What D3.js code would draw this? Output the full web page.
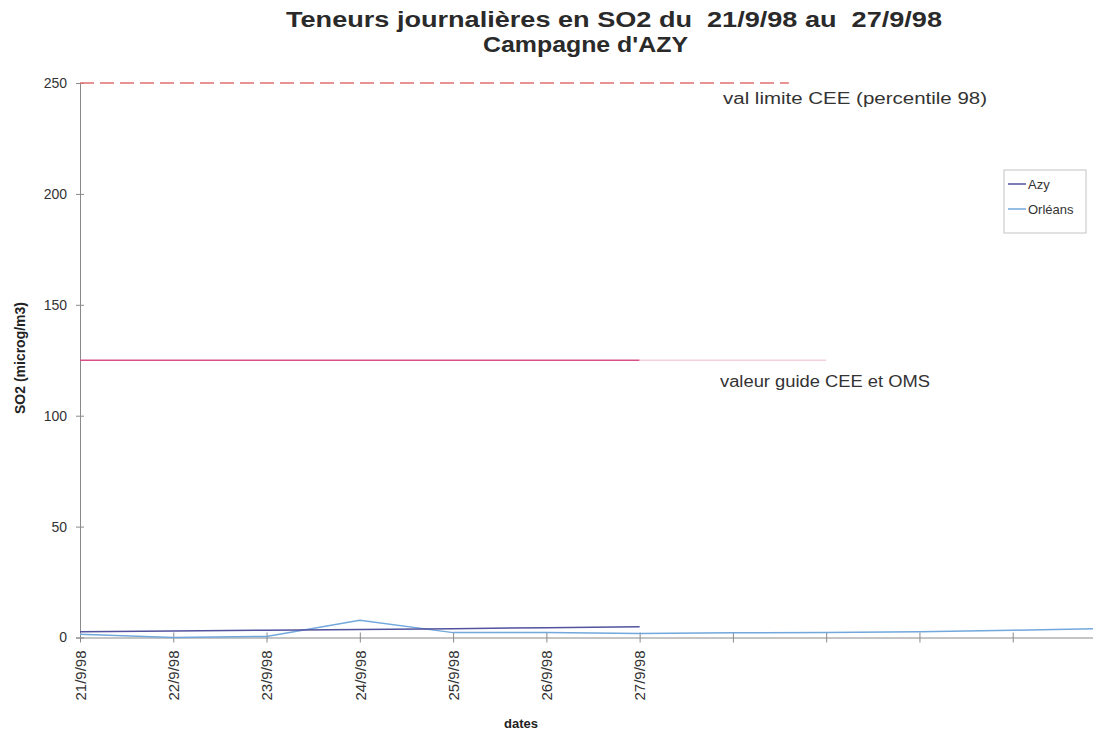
<!DOCTYPE html>
<html>
<head>
<meta charset="utf-8">
<script src="https://cdn.jsdelivr.net/npm/d3@7"></script>
<style>
  body { margin: 0; background: #fff; }
  svg { display: block; font-family: "Liberation Sans", Arial, sans-serif; }
  .axis path, .axis line { stroke: #8a8a8a; }
  .axis text { fill: #333; font-size: 14px; }
</style>
</head>
<body>
<svg id="chart" width="1093" height="733"></svg>
<script>
// Data
var dates = ["21/9/98", "22/9/98", "23/9/98", "24/9/98", "25/9/98", "26/9/98", "27/9/98"];
var azy = [2.6, 2.9, 3.3, 3.6, 4.0, 4.4, 4.8];
var orleans = [1.5, 0, 0.5, 7.8, 2.2, 2.2, 1.8, 2.1, 2.2, 2.6, 3.3, 4.0];
var yTicks = [0, 50, 100, 150, 200, 250];
var limitValues = [250, 125];
var limitEnds = [7.6, 8];
var limitLabels = ["val limite CEE (percentile 98)", "valeur guide CEE et OMS"];

var svg = d3.select("#chart");

var x = d3.scaleLinear().domain([0, 11]).range([80, 1106]);
var y = d3.scaleLinear().domain([0, 250]).range([637.5, 83]);

// Titles (scan is stretched horizontally, so widths are forced)
svg.append("text")
    .attr("x", 286).attr("y", 27)
    .attr("textLength", 656).attr("lengthAdjust", "spacingAndGlyphs")
    .style("white-space", "pre")
    .style("font-size", "22px").style("font-weight", "bold").style("fill", "#2a2a2a")
    .text("Teneurs journalières en SO2 du  21/9/98 au  27/9/98");
svg.append("text")
    .attr("x", 483).attr("y", 52)
    .attr("textLength", 205).attr("lengthAdjust", "spacingAndGlyphs")
    .style("font-size", "22px").style("font-weight", "bold").style("fill", "#2a2a2a")
    .text("Campagne d'AZY");

// Y axis
var yAxis = svg.append("g")
    .attr("class", "axis")
    .attr("transform", "translate(80,0)")
    .call(d3.axisLeft(y).tickValues(yTicks).tickSize(4).tickPadding(9));
yAxis.selectAll(".tick line").attr("x1", -4).attr("x2", 4);

svg.append("text")
    .attr("transform", "translate(25,358) rotate(-90)")
    .attr("text-anchor", "middle")
    .style("font-size", "14px").style("font-weight", "bold").style("fill", "#222")
    .text("SO2 (microg/m3)");

// X axis
var xAxis = svg.append("g")
    .attr("class", "axis")
    .attr("transform", "translate(0," + y(0) + ")")
    .call(d3.axisBottom(x).tickValues(d3.range(11))
      .tickFormat(function(i) { return dates[i] || ""; })
      .tickSize(5).tickSizeOuter(0));
xAxis.selectAll(".tick line").attr("y1", -5).attr("y2", 5);
xAxis.selectAll(".tick text")
    .attr("transform", "rotate(-90)")
    .attr("text-anchor", "end")
    .attr("x", -13).attr("y", 0).attr("dy", "0.35em")
    .style("font-size", "15px");

svg.append("text")
    .attr("x", 521).attr("y", 728)
    .attr("text-anchor", "middle")
    .style("font-size", "13px").style("font-weight", "bold").style("fill", "#222")
    .text("dates");

// Reference lines
svg.append("line")
    .attr("x1", x(0)).attr("x2", x(limitEnds[0]))
    .attr("y1", y(limitValues[0])).attr("y2", y(limitValues[0]))
    .style("stroke", "#e07070").style("stroke-width", 1.5)
    .style("stroke-dasharray", "14,6");
svg.append("line")
    .attr("x1", x(0)).attr("x2", x(6))
    .attr("y1", y(limitValues[1])).attr("y2", y(limitValues[1]))
    .style("stroke", "#d8508a").style("stroke-width", 1.5);
svg.append("line")
    .attr("x1", x(6)).attr("x2", x(limitEnds[1]))
    .attr("y1", y(limitValues[1])).attr("y2", y(limitValues[1]))
    .style("stroke", "#f2d0dc").style("stroke-width", 1.5);

svg.append("text")
    .attr("x", 723).attr("y", y(limitValues[0]) + 21)
    .attr("textLength", 264).attr("lengthAdjust", "spacingAndGlyphs")
    .style("font-size", "16px").style("fill", "#333")
    .text(limitLabels[0]);
svg.append("text")
    .attr("x", 720).attr("y", y(limitValues[1]) + 27)
    .attr("textLength", 210).attr("lengthAdjust", "spacingAndGlyphs")
    .style("font-size", "16px").style("fill", "#333")
    .text(limitLabels[1]);

// Series
var line = d3.line()
    .x(function(d, i) { return x(i); })
    .y(function(d) { return y(d); });

svg.append("path")
    .datum(orleans)
    .attr("d", line)
    .style("fill", "none").style("stroke", "#72a8dc").style("stroke-width", 1.5);
svg.append("path")
    .datum(azy)
    .attr("d", line)
    .style("fill", "none").style("stroke", "#52529e").style("stroke-width", 1.5);

// Legend
var legend = svg.append("g").attr("transform", "translate(1004,170)");
legend.append("rect")
    .attr("width", 82).attr("height", 63)
    .style("fill", "#fff").style("stroke", "#c4c4c4");
var series = [{name: "Azy", color: "#52529e"}, {name: "Orléans", color: "#72a8dc"}];
var item = legend.selectAll("g.item")
    .data(series)
  .enter().append("g")
    .attr("class", "item")
    .attr("transform", function(d, i) { return "translate(0," + (14 + i * 25) + ")"; });
item.append("line")
    .attr("x1", 4).attr("x2", 22)
    .style("stroke", function(d) { return d.color; }).style("stroke-width", 1.5);
item.append("text")
    .attr("x", 24).attr("dy", "0.35em")
    .style("font-size", "13px").style("fill", "#333")
    .text(function(d) { return d.name; });
</script>
</body>
</html>
